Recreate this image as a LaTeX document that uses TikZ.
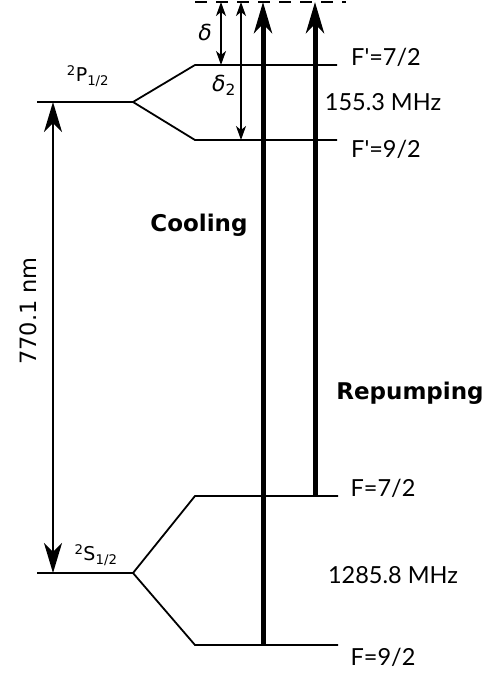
\documentclass[tikz,border=0pt]{standalone}
\usepackage{fontspec}
\setmainfont{Lato}
\newfontfamily\dvs{DejaVu Sans}
\usetikzlibrary{arrows.meta}
\tikzset{
  level/.style={line width=1.8pt},
  thinarr/.style={line width=1.5pt, {Stealth[length=14pt,width=10pt,inset=4pt]}-{Stealth[length=14pt,width=10pt,inset=4pt]}},
  bigarr/.style={line width=1.7pt, {Stealth[length=30pt,width=18pt,inset=9pt]}-{Stealth[length=30pt,width=18pt,inset=9pt]}},
  beam/.style={line width=5pt, -{Stealth[length=31pt,width=18pt,inset=9pt]}},
  lbl/.style={font=\fontsize{23.5}{27}\selectfont, inner sep=0pt},
  blbl/.style={font=\dvs\fontsize{23}{27}\selectfont\bfseries, inner sep=0pt},
  dlbl/.style={font=\dvs\fontsize{22.5}{26}\selectfont, inner sep=0pt},
  slbl/.style={font=\dvs\fontsize{19}{23}\selectfont, inner sep=0pt},
  glbl/.style={font=\dvs\fontsize{22}{26}\selectfont\itshape, inner sep=0pt}
}
\begin{document}
\begin{tikzpicture}[x=1pt,y=-1pt]
\useasboundingbox (0,0) rectangle (499,675);
% levels
\coordinate (pL) at (37,102);
\coordinate (pS) at (133,102);
\coordinate (p7a) at (195,65);
\coordinate (p7b) at (337,65);
\coordinate (p9a) at (195,140);
\coordinate (p9b) at (337,140);
\coordinate (sL) at (37,573);
\coordinate (sS) at (133,573);
\coordinate (s7a) at (195,496);
\coordinate (s7b) at (338,496);
\coordinate (s9a) at (195,645);
\coordinate (s9b) at (338,645);
\draw[level] (pL) -- (pS) -- (p7a) -- (p7b);
\draw[level] (pS) -- (p9a) -- (p9b);
\draw[level] (sL) -- (sS) -- (s7a) -- (s7b);
\draw[level] (sS) -- (s9a) -- (s9b);
% virtual level
\coordinate (vL) at (195,2);
\coordinate (vR) at (346,2);
\draw[line width=1.8pt, dash pattern=on 12pt off 9pt] (vL) -- (vR);
% detunings
\coordinate (d1t) at (221,2);
\coordinate (d1b) at (221,65);
\coordinate (d2t) at (241,2);
\coordinate (d2b) at (241,140);
\draw[thinarr] (d1t) -- (d1b);
\draw[thinarr] (d2t) -- (d2b);
\node[glbl] (dl) at (205,32) {δ};
\node[glbl] (d2l) at (224,85) {δ\textsubscript{\upshape 2}};
% beams
\coordinate (cb) at (263,645);
\coordinate (ct) at (263,2);
\coordinate (rb) at (315,496);
\coordinate (rt) at (315,2);
\draw[beam] (cb) -- (ct);
\draw[beam] (rb) -- (rt);
% 770.1 nm
\coordinate (wt) at (53,102);
\coordinate (wb) at (53,573);
\draw[bigarr] (wt) -- (wb);
\node[dlbl, rotate=90] (wl) at (28,311) {770.1 nm};
% labels
\node[slbl] (pl) at (88,76) {\textsuperscript{2}P\textsubscript{1/2}};
\node[slbl] (sl) at (96,555) {\textsuperscript{2}S\textsubscript{1/2}};
\node[lbl] (f7p) at (386,57) {F\textquotesingle=7/2};
\node[lbl] (hfp) at (383,102) {155.3 MHz};
\node[lbl] (f9p) at (386,149) {F\textquotesingle=9/2};
\node[lbl] (f7) at (383,488) {F=7/2};
\node[lbl] (hfs) at (393,575) {1285.8 MHz};
\node[lbl] (f9) at (383,657) {F=9/2};
\node[blbl] (cool) at (199,225) {Cooling};
\node[blbl] (rep) at (410,393) {Repumping};
\end{tikzpicture}
\end{document}
